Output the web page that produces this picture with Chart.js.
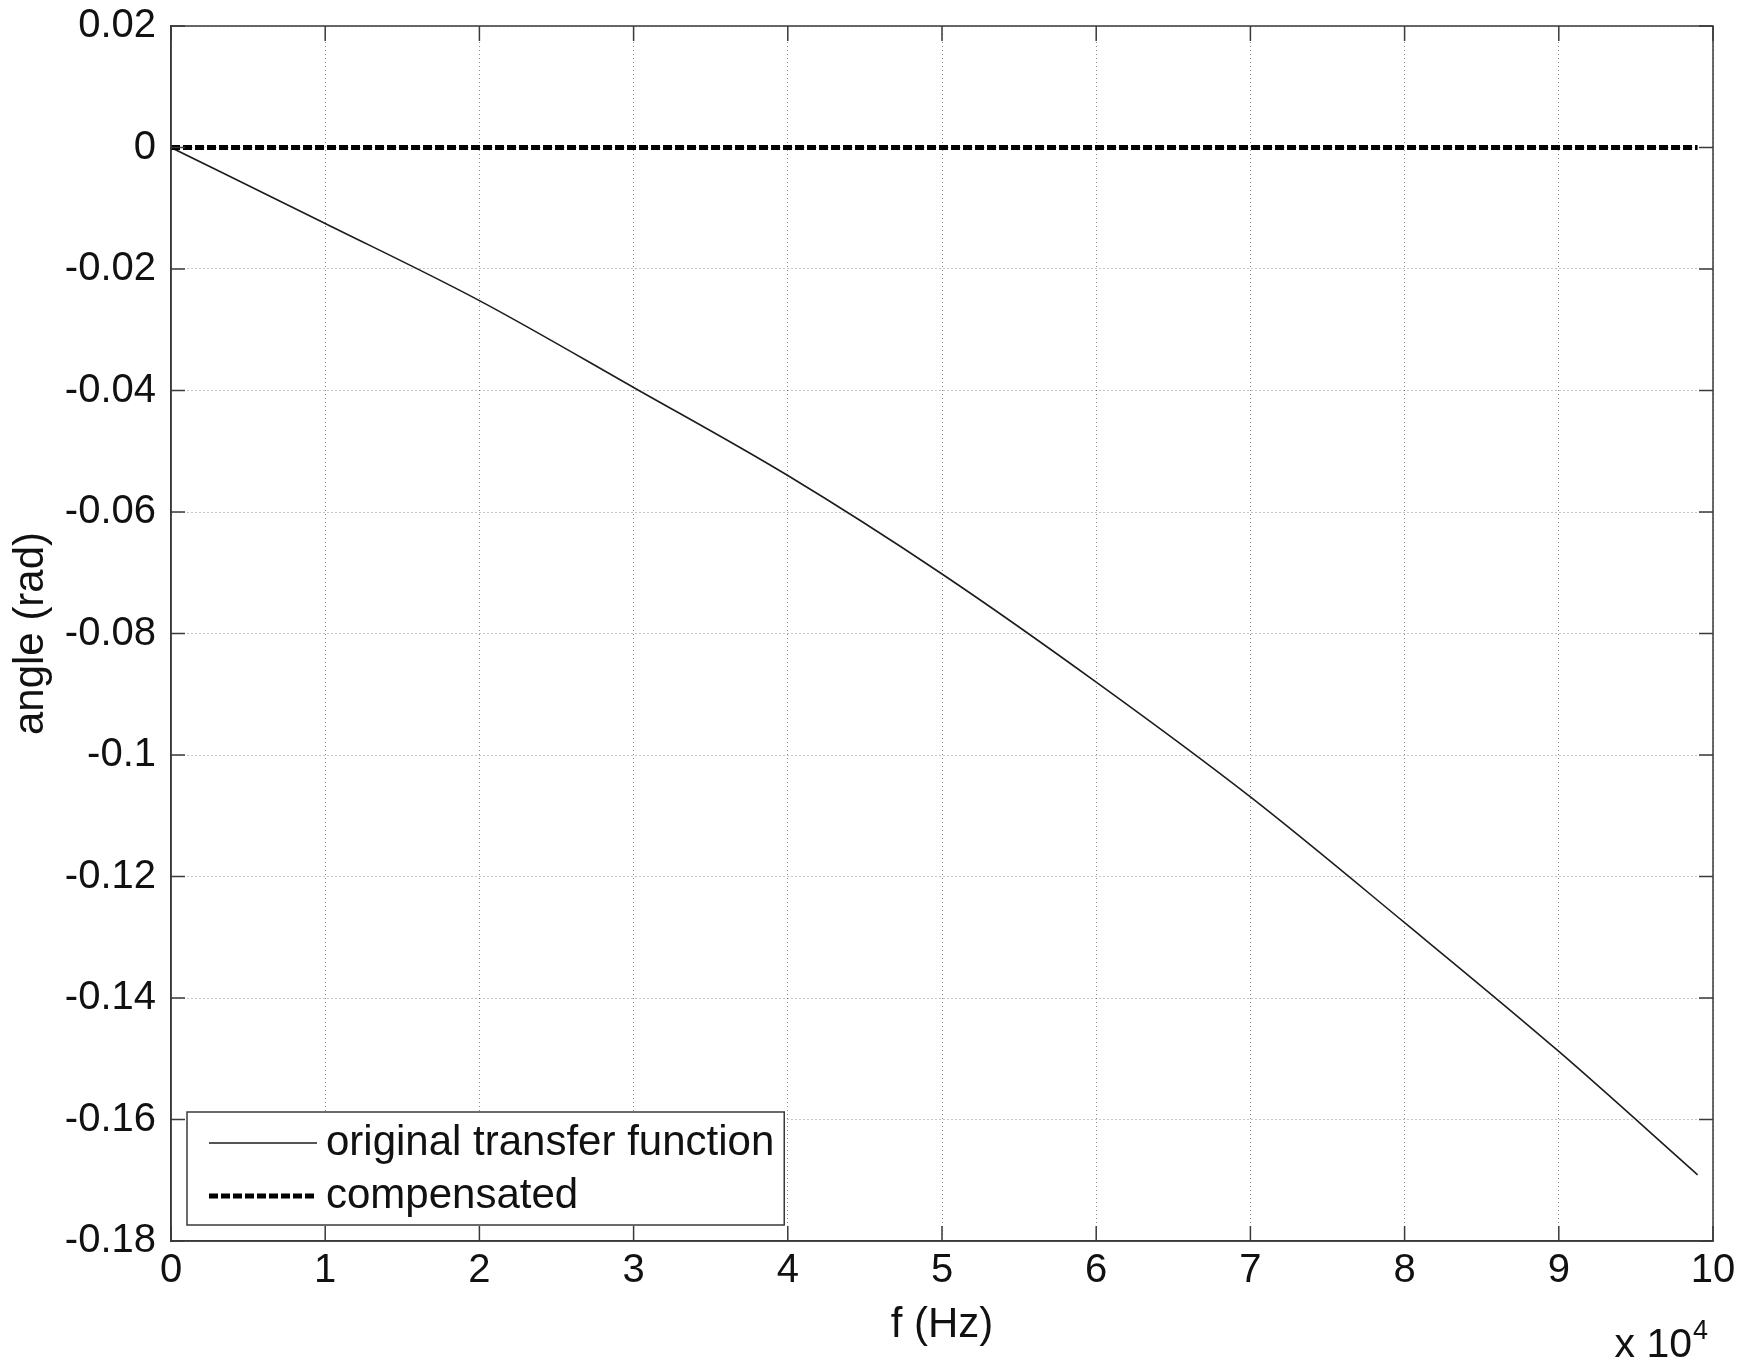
<!DOCTYPE html>
<html>
<head>
<meta charset="utf-8">
<title>angle vs frequency</title>
<script src="https://cdn.jsdelivr.net/npm/chart.js@4.4.1/dist/chart.umd.min.js"></script>
<style>
  html, body { margin: 0; padding: 0; background: #fff; }
  canvas { display: block; }
</style>
</head>
<body>
<canvas id="phase" width="1744" height="1370"></canvas>
<script>
// frequency samples (Hz) and phase (rad)
const freqHz = [0, 10000, 20000, 30000, 40000, 50000, 60000, 70000, 80000, 90000, 99000];
const originalRad = [0, -0.0125, -0.0252, -0.0395, -0.0540, -0.0702, -0.0880, -0.1069, -0.1276, -0.1488, -0.1691];
const compensatedRad = [0, 0, 0, 0, 0, 0, 0, 0, 0, 0, 0];

const xTickValues = [0, 10000, 20000, 30000, 40000, 50000, 60000, 70000, 80000, 90000, 100000];
const xTickLabels = ['0', '1', '2', '3', '4', '5', '6', '7', '8', '9', '10'];
const yTickValues = [0.02, 0, -0.02, -0.04, -0.06, -0.08, -0.1, -0.12, -0.14, -0.16, -0.18];
const yTickLabels = ['0.02', '0', '-0.02', '-0.04', '-0.06', '-0.08', '-0.1', '-0.12', '-0.14', '-0.16', '-0.18'];

const FONT = "'Liberation Sans', Arial, Helvetica, sans-serif";
const FRAME = '#3a3a3a';

function toPoints(xs, ys) {
    return xs.map((x, i) => ({ x: x, y: ys[i] }));
}

// box around the axes, inward ticks, legend in the lower left and the x10^4 note
const matlabAxes = {
    id: 'matlabAxes',
    afterDraw(chart) {
        const ctx = chart.ctx;
        const a = chart.chartArea;
        const xs = chart.scales.x, ys = chart.scales.y;
        ctx.save();
        ctx.strokeStyle = FRAME;
        ctx.lineWidth = 1.5;
        ctx.setLineDash([]);
        ctx.strokeRect(a.left, a.top, a.right - a.left, a.bottom - a.top);

        ctx.beginPath();
        xTickValues.forEach(v => {
            const px = xs.getPixelForValue(v);
            ctx.moveTo(px, a.bottom); ctx.lineTo(px, a.bottom - 15);
            ctx.moveTo(px, a.top); ctx.lineTo(px, a.top + 15);
        });
        yTickValues.forEach(v => {
            const py = ys.getPixelForValue(v);
            ctx.moveTo(a.left, py); ctx.lineTo(a.left + 14, py);
            ctx.moveTo(a.right, py); ctx.lineTo(a.right - 14, py);
        });
        ctx.stroke();

        // legend
        ctx.font = '42px ' + FONT;
        const sets = chart.data.datasets;
        const textW = Math.max(...sets.map(d => ctx.measureText(d.label).width));
        const boxW = 22 + 108 + 9 + textW + 10;
        const boxH = 113;
        const bx = a.left + 16;
        const by = a.bottom - 16 - boxH;
        ctx.fillStyle = '#fff';
        ctx.fillRect(bx, by, boxW, boxH);
        ctx.strokeStyle = FRAME;
        ctx.lineWidth = 1.5;
        ctx.strokeRect(bx, by, boxW, boxH);
        sets.forEach((d, i) => {
            const cy = by + 31 + i * 53;
            ctx.save();
            ctx.strokeStyle = d.borderColor;
            ctx.lineWidth = d.borderWidth;
            ctx.setLineDash(d.borderDash || []);
            ctx.beginPath();
            ctx.moveTo(bx + 22, cy);
            ctx.lineTo(bx + 130, cy);
            ctx.stroke();
            ctx.restore();
            ctx.fillStyle = '#111';
            ctx.textBaseline = 'middle';
            ctx.textAlign = 'left';
            ctx.fillText(d.label, bx + 139, cy);
        });

        // exponent of the x axis
        ctx.fillStyle = '#111';
        ctx.textAlign = 'right';
        ctx.textBaseline = 'alphabetic';
        ctx.font = '27px ' + FONT;
        const supW = ctx.measureText('4').width;
        ctx.fillText('4', a.right - 5, a.bottom + 98);
        ctx.font = '41px ' + FONT;
        ctx.fillText('x 10', a.right - 6 - supW, a.bottom + 116);
        ctx.restore();
    }
};

const config = {
    type: 'line',
    data: {
        datasets: [{
            label: 'original transfer function',
            data: toPoints(freqHz, originalRad),
            borderColor: '#1c1c1c',
            borderWidth: 1.6,
            pointRadius: 0,
            cubicInterpolationMode: 'monotone',
            fill: false,
            order: 1
        }, {
            label: 'compensated',
            data: toPoints(freqHz, compensatedRad),
            borderColor: '#000',
            borderWidth: 5,
            borderDash: [9, 3],
            pointRadius: 0,
            fill: false,
            order: 0
        }]
    },
    options: {
        responsive: false,
        animation: false,
        devicePixelRatio: 1,
        layout: { padding: { top: 26, right: 31, left: 0, bottom: 0 } },
        plugins: {
            legend: { display: false },
            tooltip: { enabled: false }
        },
        scales: {
            x: {
                type: 'linear',
                position: 'bottom',
                min: 0,
                max: 100000,
                afterFit(s) { s.height = 129; s.paddingLeft = 0; s.paddingRight = 0; },
                afterBuildTicks(s) { s.ticks = xTickValues.map(v => ({ value: v })); },
                ticks: {
                    callback: (v, i) => xTickLabels[i],
                    font: { family: FONT, size: 40 },
                    color: '#111',
                    padding: 6,
                    maxRotation: 0,
                    autoSkip: false
                },
                grid: { color: 'rgba(0,0,0,0.45)', lineWidth: 1, drawTicks: false },
                border: { display: true, color: FRAME, width: 1.5, dash: [1, 3] },
                title: {
                    display: true,
                    text: 'f (Hz)',
                    color: '#111',
                    font: { family: FONT, size: 42 },
                    padding: { top: 0, bottom: 19 }
                }
            },
            y: {
                type: 'linear',
                min: -0.18,
                max: 0.02,
                afterFit(s) { s.width = 171; s.paddingTop = 0; s.paddingBottom = 0; },
                afterBuildTicks(s) { s.ticks = yTickValues.map(v => ({ value: v })); },
                ticks: {
                    callback: (v, i) => yTickLabels[i],
                    font: { family: FONT, size: 40 },
                    color: '#111',
                    padding: 15,
                    autoSkip: false
                },
                grid: { color: 'rgba(0,0,0,0.45)', lineWidth: 1, drawTicks: false },
                border: { display: true, color: FRAME, width: 1.5, dash: [1, 3] },
                title: {
                    display: true,
                    text: 'angle (rad)',
                    color: '#111',
                    font: { family: FONT, size: 42 },
                    padding: { top: 6, bottom: 0 }
                }
            }
        }
    },
    plugins: [matlabAxes]
};

const phaseCtx = document.getElementById('phase');
const phaseChart = new Chart(phaseCtx, config);
</script>
</body>
</html>
